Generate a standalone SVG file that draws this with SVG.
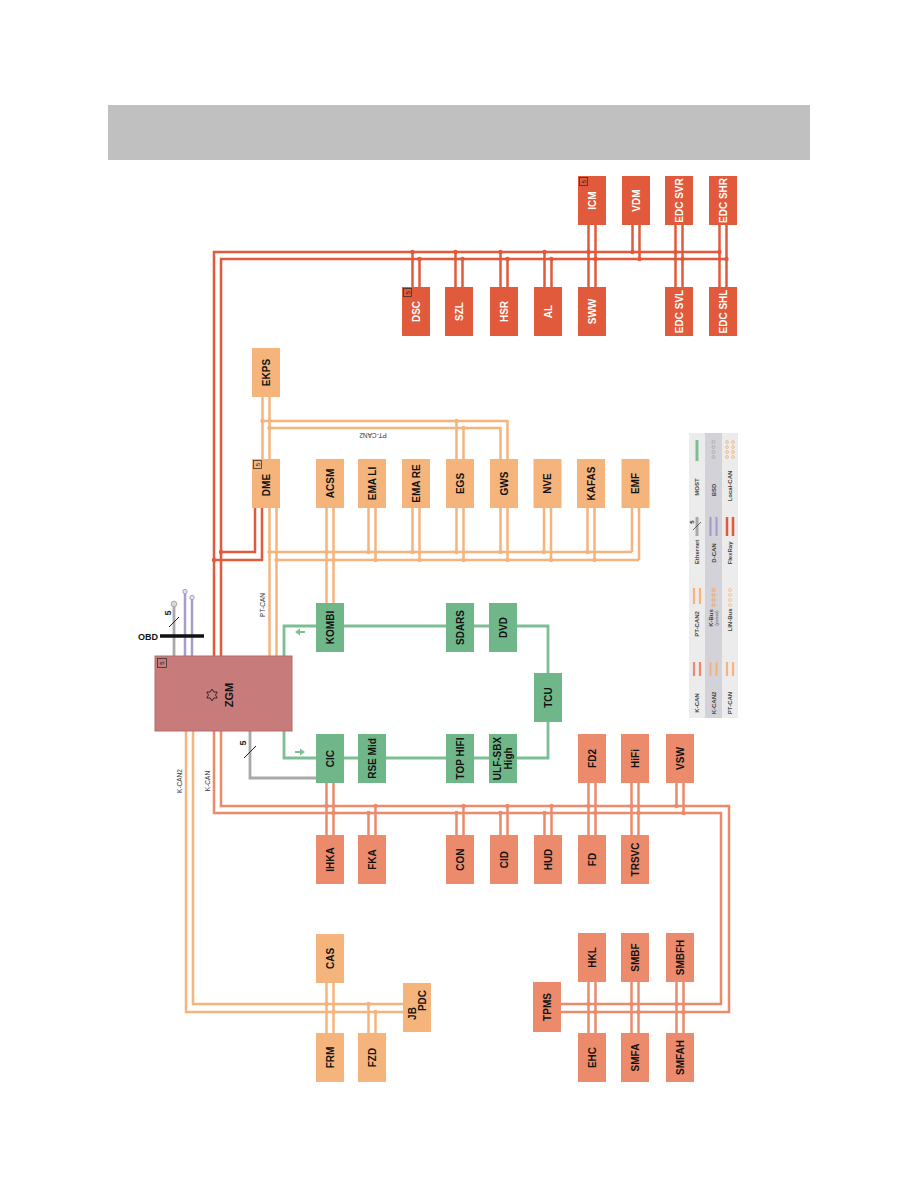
<svg xmlns="http://www.w3.org/2000/svg" width="918" height="1188" viewBox="0 0 918 1188">
<style>
.fr{fill:#e05a3b}
.kc{fill:#ec8a6c}
.pt{fill:#f6b47d}
.mo{fill:#6fb788}
.zg{fill:#c77b7b;stroke:#b86a6a;stroke-width:1}
.t{font-family:"Liberation Sans",Arial,sans-serif;font-weight:bold;font-size:10px;text-anchor:middle;fill:#111}
.w{fill:#fff}
.sm{font-family:"Liberation Sans",Arial,sans-serif;font-size:6.5px;text-anchor:middle;fill:#333}
.lg{font-family:"Liberation Sans",Arial,sans-serif;font-weight:bold;font-size:6px;text-anchor:middle;fill:#444}
.c-fr{stroke:#e05a3b;stroke-width:2.5;fill:none}
.c-kc{stroke:#ec8a6c;stroke-width:2.5;fill:none}
.c-pt{stroke:#f6b47d;stroke-width:2.5;fill:none}
.c-mo{stroke:#7dbf93;stroke-width:2.8;fill:none}
.c-et{stroke:#a9a9a9;stroke-width:2.8;fill:none}
.c-dc{stroke:#a99ccb;stroke-width:2.5;fill:none}
.d-fr{fill:#e05a3b}
.d-kc{fill:#ec8a6c}
.d-pt{fill:#f6b47d}
.ico{fill:none;stroke:#333;stroke-width:0.8}
.ict{font-family:"Liberation Sans",Arial,sans-serif;font-size:6px;text-anchor:middle;fill:#222}
</style>

<rect id="header" x="108" y="105" width="702" height="55" fill="#c0c0c0"/>

<g id="connectors">
  <!-- FlexRay -->
  <path class="c-fr" d="M214,656 V252 H720.5"/>
  <path class="c-fr" d="M221,656 V259 H727.5"/>
  <path class="c-fr" d="M412.5,252 V287 M419.5,259 V287"/>
  <path class="c-fr" d="M455.5,252 V287 M462.5,259 V287"/>
  <path class="c-fr" d="M500.5,252 V287 M507.5,259 V287"/>
  <path class="c-fr" d="M544.5,252 V287 M551.5,259 V287"/>
  <path class="c-fr" d="M588.5,225 V287 M595.5,225 V287"/>
  <path class="c-fr" d="M632.5,225 V252 M639.5,225 V259"/>
  <path class="c-fr" d="M675.5,225 V287 M682.5,225 V287"/>
  <path class="c-fr" d="M719.5,225 V287 M726.5,225 V287"/>
  <path class="c-fr" d="M255,508 V552 H221 M262,508 V560 H214"/>
  <g class="d-fr">
    <circle cx="412.5" cy="252" r="2.2"/><circle cx="419.5" cy="259" r="2.2"/>
    <circle cx="455.5" cy="252" r="2.2"/><circle cx="462.5" cy="259" r="2.2"/>
    <circle cx="500.5" cy="252" r="2.2"/><circle cx="507.5" cy="259" r="2.2"/>
    <circle cx="544.5" cy="252" r="2.2"/><circle cx="551.5" cy="259" r="2.2"/>
    <circle cx="588.5" cy="252" r="2.2"/><circle cx="595.5" cy="259" r="2.2"/>
    <circle cx="632.5" cy="252" r="2.2"/><circle cx="639.5" cy="259" r="2.2"/>
    <circle cx="675.5" cy="252" r="2.2"/><circle cx="682.5" cy="259" r="2.2"/>
    <circle cx="719.5" cy="252" r="2.2"/><circle cx="726.5" cy="259" r="2.2"/>
    <circle cx="221" cy="552" r="2.2"/><circle cx="214" cy="560" r="2.2"/>
  </g>

  <!-- PT-CAN2 -->
  <path class="c-pt" d="M262.5,397 V459 M269.5,397 V459"/>
  <path class="c-pt" d="M262.5,421 H507.5 V459"/>
  <path class="c-pt" d="M269.5,428 H500.5 V459"/>
  <path class="c-pt" d="M456.5,421 V552 M463.5,428 V560"/>
  <!-- PT-CAN -->
  <path class="c-pt" d="M269.5,656 V508 M276.5,656 V508"/>
  <path class="c-pt" d="M269.5,552 H632 M276.5,560 H639"/>
  <path class="c-pt" d="M326.5,508 V603 M333.5,508 V603"/>
  <path class="c-pt" d="M368.5,508 V552 M375.5,508 V560"/>
  <path class="c-pt" d="M412.5,508 V552 M419.5,508 V560"/>
  <path class="c-pt" d="M500.5,508 V552 M507.5,508 V560"/>
  <path class="c-pt" d="M544,508 V552 M551,508 V560"/>
  <path class="c-pt" d="M587.5,508 V552 M594.5,508 V560"/>
  <path class="c-pt" d="M632,508 V552 M639,508 V560"/>
  <g class="d-pt">
    <circle cx="262.5" cy="421" r="2.2"/><circle cx="269.5" cy="428" r="2.2"/>
    <circle cx="456.5" cy="421" r="2.2"/><circle cx="463.5" cy="428" r="2.2"/>
    <circle cx="269.5" cy="552" r="2.2"/><circle cx="276.5" cy="560" r="2.2"/>
    <circle cx="326.5" cy="552" r="2.2"/><circle cx="333.5" cy="560" r="2.2"/>
    <circle cx="368.5" cy="552" r="2.2"/><circle cx="375.5" cy="560" r="2.2"/>
    <circle cx="412.5" cy="552" r="2.2"/><circle cx="419.5" cy="560" r="2.2"/>
    <circle cx="456.5" cy="552" r="2.2"/><circle cx="463.5" cy="560" r="2.2"/>
    <circle cx="500.5" cy="552" r="2.2"/><circle cx="507.5" cy="560" r="2.2"/>
    <circle cx="544" cy="552" r="2.2"/><circle cx="551" cy="560" r="2.2"/>
    <circle cx="587.5" cy="552" r="2.2"/><circle cx="594.5" cy="560" r="2.2"/>
  </g>

  <!-- MOST -->
  <path class="c-mo" d="M284,656 V626 H548 V673"/>
  <path class="c-mo" d="M284,731 V758 H548 V722"/>
  <polygon fill="#7dbf93" points="295,632 300,628.5 300,631 305,631 305,633 300,633 300,635.5"/>
  <polygon fill="#7dbf93" points="305,752 300,748.5 300,751 295,751 295,753 300,753 300,755.5"/>

  <!-- Ethernet -->
  <path class="c-et" d="M250,731 V778 H316"/>
  <line x1="244" y1="758" x2="256" y2="746" stroke="#222" stroke-width="1"/>
  <text class="ict" style="font-size:9px;font-weight:bold" transform="rotate(-90 243 743)" x="243" y="743" dy="0.35em">5</text>

  <!-- OBD area -->
  <path class="c-et" d="M174,656 V606"/>
  <circle cx="174" cy="604" r="2.8" fill="#d8d8d8" stroke="#a9a9a9" stroke-width="1"/>
  <path class="c-dc" d="M185,656 V593 M192,656 V599"/>
  <circle cx="185" cy="591.5" r="2.2" fill="#e6e0f2" stroke="#a99ccb" stroke-width="1"/>
  <circle cx="192" cy="597.5" r="2.2" fill="#e6e0f2" stroke="#a99ccb" stroke-width="1"/>
  <line x1="160" y1="636" x2="204" y2="636" stroke="#111" stroke-width="3.5"/>
  <line x1="169" y1="627" x2="179" y2="617" stroke="#222" stroke-width="1"/>
  <text class="ict" style="font-size:9px;font-weight:bold" transform="rotate(-90 168 613)" x="168" y="613" dy="0.35em">5</text>
  <text style="font-family:'Liberation Sans',Arial,sans-serif;font-weight:bold;font-size:9px;fill:#111;text-anchor:end" x="158" y="639.5">OBD</text>

  <!-- K-CAN -->
  <path class="c-kc" d="M221,731 V806 H729 V1012 H561"/>
  <path class="c-kc" d="M214,731 V813 H721 V1004 H561"/>
  <path class="c-kc" d="M326.5,783 V835 M333.5,783 V835"/>
  <path class="c-kc" d="M368.5,813 V835 M375.5,806 V835"/>
  <path class="c-kc" d="M456.5,813 V835 M463.5,806 V835"/>
  <path class="c-kc" d="M500.5,813 V835 M507.5,806 V835"/>
  <path class="c-kc" d="M544.5,813 V835 M551.5,806 V835"/>
  <path class="c-kc" d="M588.5,783 V835 M595.5,783 V835"/>
  <path class="c-kc" d="M631.5,783 V835 M638.5,783 V835"/>
  <path class="c-kc" d="M676.5,783 V806 M683.5,783 V813"/>
  <path class="c-kc" d="M588.5,982 V1033 M595.5,982 V1033"/>
  <path class="c-kc" d="M631.5,982 V1033 M638.5,982 V1033"/>
  <path class="c-kc" d="M676.5,982 V1033 M683.5,982 V1033"/>
  <g class="d-kc">
    <circle cx="326.5" cy="806" r="2.2"/><circle cx="333.5" cy="813" r="2.2"/>
    <circle cx="368.5" cy="813" r="2.2"/><circle cx="375.5" cy="806" r="2.2"/>
    <circle cx="456.5" cy="813" r="2.2"/><circle cx="463.5" cy="806" r="2.2"/>
    <circle cx="500.5" cy="813" r="2.2"/><circle cx="507.5" cy="806" r="2.2"/>
    <circle cx="544.5" cy="813" r="2.2"/><circle cx="551.5" cy="806" r="2.2"/>
    <circle cx="588.5" cy="806" r="2.2"/><circle cx="595.5" cy="813" r="2.2"/>
    <circle cx="631.5" cy="806" r="2.2"/><circle cx="638.5" cy="813" r="2.2"/>
    <circle cx="676.5" cy="806" r="2.2"/><circle cx="683.5" cy="813" r="2.2"/>
    <circle cx="588.5" cy="1004" r="2.2"/><circle cx="595.5" cy="1012" r="2.2"/>
    <circle cx="631.5" cy="1004" r="2.2"/><circle cx="638.5" cy="1012" r="2.2"/>
    <circle cx="676.5" cy="1004" r="2.2"/><circle cx="683.5" cy="1012" r="2.2"/>
  </g>

  <!-- K-CAN2 -->
  <path class="c-pt" d="M193,731 V1004 H403"/>
  <path class="c-pt" d="M186,731 V1012 H403"/>
  <path class="c-pt" d="M326.5,983 V1033 M333.5,983 V1033"/>
  <path class="c-pt" d="M368.5,1004 V1033 M375.5,1012 V1033"/>
  <g class="d-pt">
    <circle cx="326.5" cy="1004" r="2.2"/><circle cx="333.5" cy="1012" r="2.2"/>
    <circle cx="368.5" cy="1004" r="2.2"/><circle cx="375.5" cy="1012" r="2.2"/>
  </g>

  <!-- bus labels -->
  <text class="sm" transform="rotate(-90 263 605)" x="263" y="605" dy="0.35em">PT-CAN</text>
  <text class="sm" transform="rotate(180 373 435)" x="373" y="435" dy="0.35em">PT-CAN2</text>
  <text class="sm" transform="rotate(-90 180 781)" x="180" y="781" dy="0.35em">K-CAN2</text>
  <text class="sm" transform="rotate(-90 208 781)" x="208" y="781" dy="0.35em">K-CAN</text>
</g>

<!-- ZGM -->
<g id="n-ZGM">
  <rect class="zg" x="155" y="656" width="137" height="75"/>
  <rect class="ico" x="157.5" y="658.5" width="9" height="9"/>
  <text class="ict" transform="rotate(-90 162 663)" x="162" y="663" dy="0.35em">5</text>
  <polygon fill="none" stroke="#222" stroke-width="0.9" points="212,689 213.75,692 217.2,692 215.5,695 217.2,698 213.75,698 212,701 210.25,698 206.8,698 208.5,695 206.8,692 210.25,692"/>
  <text class="t" style="font-size:11px" transform="rotate(-90 229 695)" x="229" y="695" dy="0.35em">ZGM</text>
</g>

<!-- FlexRay nodes -->
<g id="n-ICM"><rect class="fr" x="578" y="176" width="28" height="49"/><rect class="ico" x="579.5" y="177.5" width="8" height="8"/><text class="ict" transform="rotate(-90 583.5 181.5)" x="583.5" y="181.5" dy="0.35em">5</text><text class="t w" transform="rotate(-90 592 200.5)" x="592" y="200.5" dy="0.35em">ICM</text></g>
<g id="n-VDM"><rect class="fr" x="622" y="176" width="28" height="49"/><text class="t w" transform="rotate(-90 636 200.5)" x="636" y="200.5" dy="0.35em">VDM</text></g>
<g id="n-EDCSVR"><rect class="fr" x="665" y="176" width="28" height="49"/><text class="t w" transform="rotate(-90 679 200.5)" x="679" y="200.5" dy="0.35em">EDC SVR</text></g>
<g id="n-EDCSHR"><rect class="fr" x="709" y="176" width="28" height="49"/><text class="t w" transform="rotate(-90 723 200.5)" x="723" y="200.5" dy="0.35em">EDC SHR</text></g>
<g id="n-DSC"><rect class="fr" x="402" y="287" width="28" height="49"/><rect class="ico" x="403.5" y="288.5" width="8" height="8"/><text class="ict" transform="rotate(-90 407.5 292.5)" x="407.5" y="292.5" dy="0.35em">5</text><text class="t w" transform="rotate(-90 416 311.5)" x="416" y="311.5" dy="0.35em">DSC</text></g>
<g id="n-SZL"><rect class="fr" x="445" y="287" width="28" height="49"/><text class="t w" transform="rotate(-90 459 311.5)" x="459" y="311.5" dy="0.35em">SZL</text></g>
<g id="n-HSR"><rect class="fr" x="490" y="287" width="28" height="49"/><text class="t w" transform="rotate(-90 504 311.5)" x="504" y="311.5" dy="0.35em">HSR</text></g>
<g id="n-AL"><rect class="fr" x="534" y="287" width="28" height="49"/><text class="t w" transform="rotate(-90 548 311.5)" x="548" y="311.5" dy="0.35em">AL</text></g>
<g id="n-SWW"><rect class="fr" x="578" y="287" width="28" height="49"/><text class="t w" transform="rotate(-90 592 311.5)" x="592" y="311.5" dy="0.35em">SWW</text></g>
<g id="n-EDCSVL"><rect class="fr" x="665" y="287" width="28" height="49"/><text class="t w" transform="rotate(-90 679 311.5)" x="679" y="311.5" dy="0.35em">EDC SVL</text></g>
<g id="n-EDCSHL"><rect class="fr" x="709" y="287" width="28" height="49"/><text class="t w" transform="rotate(-90 723 311.5)" x="723" y="311.5" dy="0.35em">EDC SHL</text></g>

<!-- PT-CAN nodes -->
<g id="n-EKPS"><rect class="pt" x="252" y="348" width="28" height="49"/><text class="t" transform="rotate(-90 266 372.5)" x="266" y="372.5" dy="0.35em">EKPS</text></g>
<g id="n-DME"><rect class="pt" x="252" y="459" width="28" height="49"/><rect class="ico" x="253.5" y="460.5" width="8" height="8"/><text class="ict" transform="rotate(-90 257.5 464.5)" x="257.5" y="464.5" dy="0.35em">5</text><text class="t" transform="rotate(-90 266 485)" x="266" y="485" dy="0.35em">DME</text></g>
<g id="n-ACSM"><rect class="pt" x="316" y="459" width="28" height="49"/><text class="t" transform="rotate(-90 330 483.5)" x="330" y="483.5" dy="0.35em">ACSM</text></g>
<g id="n-EMALI"><rect class="pt" x="358" y="459" width="28" height="49"/><text class="t" transform="rotate(-90 372 483.5)" x="372" y="483.5" dy="0.35em">EMA LI</text></g>
<g id="n-EMARE"><rect class="pt" x="402" y="459" width="28" height="49"/><text class="t" transform="rotate(-90 416 483.5)" x="416" y="483.5" dy="0.35em">EMA RE</text></g>
<g id="n-EGS"><rect class="pt" x="446" y="459" width="28" height="49"/><text class="t" transform="rotate(-90 460 483.5)" x="460" y="483.5" dy="0.35em">EGS</text></g>
<g id="n-GWS"><rect class="pt" x="490" y="459" width="28" height="49"/><text class="t" transform="rotate(-90 504 483.5)" x="504" y="483.5" dy="0.35em">GWS</text></g>
<g id="n-NVE"><rect class="pt" x="533.5" y="459" width="28" height="49"/><text class="t" transform="rotate(-90 547.5 483.5)" x="547.5" y="483.5" dy="0.35em">NVE</text></g>
<g id="n-KAFAS"><rect class="pt" x="577" y="459" width="28" height="49"/><text class="t" transform="rotate(-90 591 483.5)" x="591" y="483.5" dy="0.35em">KAFAS</text></g>
<g id="n-EMF"><rect class="pt" x="621.5" y="459" width="28" height="49"/><text class="t" transform="rotate(-90 635.5 483.5)" x="635.5" y="483.5" dy="0.35em">EMF</text></g>

<!-- MOST nodes -->
<g id="n-KOMBI"><rect class="mo" x="316" y="603" width="28" height="49"/><text class="t" transform="rotate(-90 330 627.5)" x="330" y="627.5" dy="0.35em">KOMBI</text></g>
<g id="n-SDARS"><rect class="mo" x="446" y="603" width="28" height="49"/><text class="t" transform="rotate(-90 460 627.5)" x="460" y="627.5" dy="0.35em">SDARS</text></g>
<g id="n-DVD"><rect class="mo" x="489" y="603" width="28" height="49"/><text class="t" transform="rotate(-90 503 627.5)" x="503" y="627.5" dy="0.35em">DVD</text></g>
<g id="n-TCU"><rect class="mo" x="534" y="673" width="28" height="49"/><text class="t" transform="rotate(-90 548 697.5)" x="548" y="697.5" dy="0.35em">TCU</text></g>
<g id="n-CIC"><rect class="mo" x="316" y="734" width="28" height="49"/><text class="t" transform="rotate(-90 330 758.5)" x="330" y="758.5" dy="0.35em">CIC</text></g>
<g id="n-RSEMid"><rect class="mo" x="358" y="734" width="28" height="49"/><text class="t" transform="rotate(-90 372 758.5)" x="372" y="758.5" dy="0.35em">RSE Mid</text></g>
<g id="n-TOPHIFI"><rect class="mo" x="446" y="734" width="28" height="49"/><text class="t" transform="rotate(-90 460 758.5)" x="460" y="758.5" dy="0.35em">TOP HIFI</text></g>
<g id="n-ULFSBX"><rect class="mo" x="489" y="734" width="28" height="49"/><text class="t" transform="rotate(-90 503 758.5)" x="503" y="758.5"><tspan x="503" dy="-0.2em">ULF-SBX</tspan><tspan x="503" dy="1.05em">High</tspan></text></g>

<!-- K-CAN nodes -->
<g id="n-FD2"><rect class="kc" x="578" y="734" width="28" height="49"/><text class="t" transform="rotate(-90 592 758.5)" x="592" y="758.5" dy="0.35em">FD2</text></g>
<g id="n-HiFi"><rect class="kc" x="621" y="734" width="28" height="49"/><text class="t" transform="rotate(-90 635 758.5)" x="635" y="758.5" dy="0.35em">HiFi</text></g>
<g id="n-VSW"><rect class="kc" x="666" y="734" width="28" height="49"/><text class="t" transform="rotate(-90 680 758.5)" x="680" y="758.5" dy="0.35em">VSW</text></g>
<g id="n-IHKA"><rect class="kc" x="316" y="835" width="28" height="49"/><text class="t" transform="rotate(-90 330 859.5)" x="330" y="859.5" dy="0.35em">IHKA</text></g>
<g id="n-FKA"><rect class="kc" x="358" y="835" width="28" height="49"/><text class="t" transform="rotate(-90 372 859.5)" x="372" y="859.5" dy="0.35em">FKA</text></g>
<g id="n-CON"><rect class="kc" x="446" y="835" width="28" height="49"/><text class="t" transform="rotate(-90 460 859.5)" x="460" y="859.5" dy="0.35em">CON</text></g>
<g id="n-CID"><rect class="kc" x="490" y="835" width="28" height="49"/><text class="t" transform="rotate(-90 504 859.5)" x="504" y="859.5" dy="0.35em">CID</text></g>
<g id="n-HUD"><rect class="kc" x="534" y="835" width="28" height="49"/><text class="t" transform="rotate(-90 548 859.5)" x="548" y="859.5" dy="0.35em">HUD</text></g>
<g id="n-FD"><rect class="kc" x="578" y="835" width="28" height="49"/><text class="t" transform="rotate(-90 592 859.5)" x="592" y="859.5" dy="0.35em">FD</text></g>
<g id="n-TRSVC"><rect class="kc" x="621" y="835" width="28" height="49"/><text class="t" transform="rotate(-90 635 859.5)" x="635" y="859.5" dy="0.35em">TRSVC</text></g>
<g id="n-TPMS"><rect class="kc" x="533" y="982" width="28" height="50"/><text class="t" transform="rotate(-90 547 1007)" x="547" y="1007" dy="0.35em">TPMS</text></g>
<g id="n-HKL"><rect class="kc" x="578" y="933" width="28" height="49"/><text class="t" transform="rotate(-90 592 957.5)" x="592" y="957.5" dy="0.35em">HKL</text></g>
<g id="n-SMBF"><rect class="kc" x="621" y="933" width="28" height="49"/><text class="t" transform="rotate(-90 635 957.5)" x="635" y="957.5" dy="0.35em">SMBF</text></g>
<g id="n-SMBFH"><rect class="kc" x="666" y="933" width="28" height="49"/><text class="t" transform="rotate(-90 680 957.5)" x="680" y="957.5" dy="0.35em">SMBFH</text></g>
<g id="n-EHC"><rect class="kc" x="578" y="1033" width="28" height="49"/><text class="t" transform="rotate(-90 592 1057.5)" x="592" y="1057.5" dy="0.35em">EHC</text></g>
<g id="n-SMFA"><rect class="kc" x="621" y="1033" width="28" height="49"/><text class="t" transform="rotate(-90 635 1057.5)" x="635" y="1057.5" dy="0.35em">SMFA</text></g>
<g id="n-SMFAH"><rect class="kc" x="666" y="1033" width="28" height="49"/><text class="t" transform="rotate(-90 680 1057.5)" x="680" y="1057.5" dy="0.35em">SMFAH</text></g>

<!-- K-CAN2 nodes -->
<g id="n-CAS"><rect class="pt" x="316" y="934" width="28" height="49"/><text class="t" transform="rotate(-90 330 958.5)" x="330" y="958.5" dy="0.35em">CAS</text></g>
<g id="n-FRM"><rect class="pt" x="316" y="1033" width="28" height="49"/><text class="t" transform="rotate(-90 330 1057.5)" x="330" y="1057.5" dy="0.35em">FRM</text></g>
<g id="n-FZD"><rect class="pt" x="358" y="1033" width="28" height="49"/><text class="t" transform="rotate(-90 372 1057.5)" x="372" y="1057.5" dy="0.35em">FZD</text></g>
<g id="n-JBPDC"><rect class="pt" x="403" y="983" width="28" height="49"/><text class="t" transform="rotate(-90 417 1007.5)" x="417" y="1007.5"><tspan x="411" dy="-0.15em">JB</tspan><tspan x="424" dy="1.05em">PDC</tspan></text></g>

<!-- Legend -->
<g id="legend">
  <rect x="689" y="433" width="16" height="285" fill="#ececec"/>
  <rect x="705" y="433" width="17" height="285" fill="#d2d2d8"/>
  <rect x="722" y="433" width="16" height="285" fill="#ececec"/>
  <!-- col1 -->
  <line x1="697" y1="440" x2="697" y2="461" stroke="#7dbf93" stroke-width="3"/>
  <text class="lg" transform="rotate(-90 697 487)" x="697" y="487" dy="0.35em">MOST</text>
  <line x1="697" y1="517" x2="697" y2="536" stroke="#a9a9a9" stroke-width="3"/>
  <line x1="693" y1="530" x2="701" y2="522" stroke="#333" stroke-width="0.7"/>
  <text class="ict" style="font-weight:bold" transform="rotate(-90 692 522)" x="692" y="522" dy="0.35em">5</text>
  <text class="lg" transform="rotate(-90 697 552)" x="697" y="552" dy="0.35em">Ethernet</text>
  <path class="c-pt" style="stroke-width:2.2" d="M694,588 V604 M700,588 V604"/>
  <text class="lg" transform="rotate(-90 697 624)" x="697" y="624" dy="0.35em">PT-CAN2</text>
  <path class="c-kc" style="stroke-width:2.2" d="M694,662 V676 M700,662 V676"/>
  <text class="lg" transform="rotate(-90 697 703)" x="697" y="703" dy="0.35em">K-CAN</text>
  <!-- col2 -->
  <g fill="none" stroke="#a9a9a9" stroke-width="0.8">
    <circle cx="713.5" cy="442" r="1.5"/><circle cx="713.5" cy="447" r="1.5"/><circle cx="713.5" cy="452" r="1.5"/><circle cx="713.5" cy="457" r="1.5"/>
  </g>
  <text class="lg" transform="rotate(-90 713.5 490)" x="713.5" y="490" dy="0.35em">BSD</text>
  <path class="c-dc" style="stroke-width:2.2" d="M710.5,517 V536 M716.5,517 V536"/>
  <text class="lg" transform="rotate(-90 713.5 553)" x="713.5" y="553" dy="0.35em">D-CAN</text>
  <g fill="none" stroke="#f0a060" stroke-width="0.9">
    <circle cx="713.5" cy="590" r="1.5"/><circle cx="713.5" cy="595" r="1.5"/><circle cx="713.5" cy="600" r="1.5"/><circle cx="713.5" cy="605" r="1.5"/>
  </g>
  <text class="lg" transform="rotate(-90 711 618)" x="711" y="618" dy="0.35em">K-Bus</text>
  <text class="lg" style="font-size:3.5px;font-weight:normal" transform="rotate(-90 717 618)" x="717" y="618" dy="0.35em">(protocol)</text>
  <path class="c-pt" style="stroke-width:2.2" d="M710.5,662 V676 M716.5,662 V676"/>
  <text class="lg" transform="rotate(-90 713.5 703)" x="713.5" y="703" dy="0.35em">K-CAN2</text>
  <!-- col3 -->
  <g fill="none" stroke="#f3b070" stroke-width="0.8">
    <circle cx="727" cy="442" r="1.4"/><circle cx="727" cy="447" r="1.4"/><circle cx="727" cy="452" r="1.4"/><circle cx="727" cy="457" r="1.4"/>
    <circle cx="733" cy="442" r="1.4"/><circle cx="733" cy="447" r="1.4"/><circle cx="733" cy="452" r="1.4"/><circle cx="733" cy="457" r="1.4"/>
  </g>
  <text class="lg" transform="rotate(-90 730 486)" x="730" y="486" dy="0.35em">Local-CAN</text>
  <path class="c-fr" style="stroke-width:2.5" d="M727,517 V536 M733,517 V536"/>
  <text class="lg" transform="rotate(-90 730 553)" x="730" y="553" dy="0.35em">FlexRay</text>
  <g fill="none" stroke="#f6c08e" stroke-width="0.9">
    <circle cx="730" cy="590" r="1.5"/><circle cx="730" cy="595" r="1.5"/><circle cx="730" cy="600" r="1.5"/><circle cx="730" cy="605" r="1.5"/>
  </g>
  <text class="lg" transform="rotate(-90 730 620)" x="730" y="620" dy="0.35em">LIN-Bus</text>
  <path class="c-pt" style="stroke-width:2.2" d="M727,662 V676 M733,662 V676"/>
  <text class="lg" transform="rotate(-90 730 703)" x="730" y="703" dy="0.35em">PT-CAN</text>
</g>
</svg>
